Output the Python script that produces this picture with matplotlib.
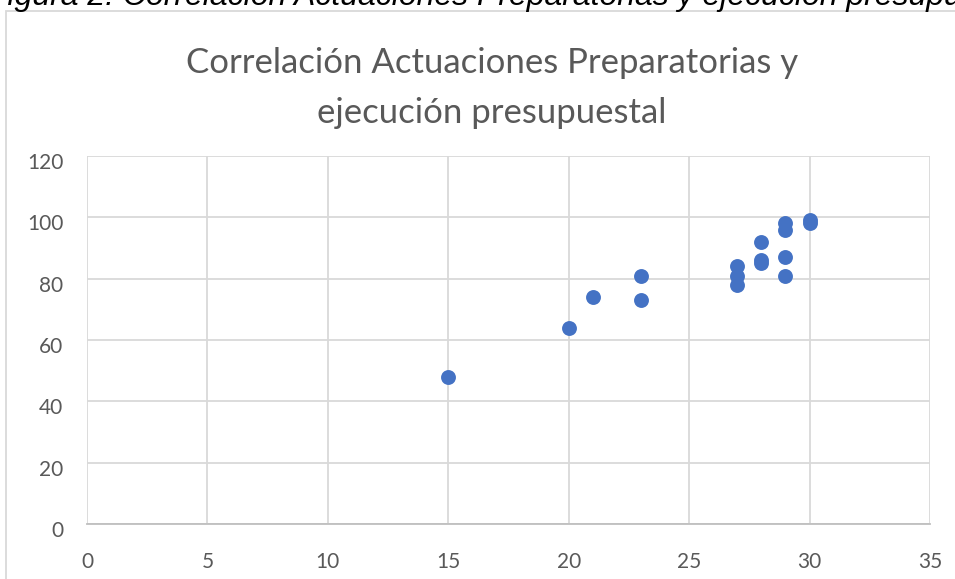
import matplotlib
matplotlib.use("Agg")
import matplotlib.pyplot as plt
from matplotlib.patches import Rectangle
from matplotlib.transforms import ScaledTranslation

# actuaciones preparatorias vs ejecucion presupuestal
actuaciones = [15, 20, 21, 23, 23, 27, 27, 27, 28, 28, 28, 29, 29, 29, 29, 30, 30]
ejecucion = [48, 64, 74, 81, 73, 84, 81, 78, 92, 86, 85, 98, 96, 87, 81, 99, 98]

x_ticks = [0, 5, 10, 15, 20, 25, 30, 35]
y_ticks = [0, 20, 40, 60, 80, 100, 120]

titulo_1 = "Correlación Actuaciones Preparatorias y"
titulo_2 = "ejecución presupuestal"
caption = "Figura 2. Correlación Actuaciones Preparatorias y ejecución presupuestal"

gray = "#595959"
W, H = 955, 579

fig = plt.figure(figsize=(W / 100, H / 100), dpi=100)

# chart area border (clipped by the page like the screenshot)
fig.patches.append(Rectangle((5.5 / W, -0.1), 1.2, 1 - 10.5 / H + 0.1,
                             transform=fig.transFigure, fill=False,
                             edgecolor="#D9D9D9", linewidth=1.3))

# caption cut off at the top of the image
fig.text(-12 / W, 1 - 5 / H, caption, fontsize=23, style="italic",
         family="Liberation Sans", color="black", ha="left", va="baseline")

ax = fig.add_axes([87 / W, 55 / H, (930 - 87) / W, (524 - 156) / H])
ax.scatter(actuaciones, ejecucion, s=115, color="#4472C4", zorder=3, linewidths=0)

ax.set_xlim(0, 35)
ax.set_ylim(0, 120)
ax.set_xticks(x_ticks)
ax.set_yticks(y_ticks)
ax.grid(True, color="#D9D9D9", linewidth=1.3)
ax.set_axisbelow(True)
for s in ["top", "right", "left"]:
    ax.spines[s].set_visible(False)
ax.spines["bottom"].set_color("#BFBFBF")
ax.spines["bottom"].set_linewidth(1.3)
ax.tick_params(length=0, labelsize=15, labelcolor=gray)
ax.tick_params(axis="x", pad=20)
ax.tick_params(axis="y", pad=17)
down = ScaledTranslation(0, -5 / 100, fig.dpi_scale_trans)
for lab in ax.get_xticklabels() + ax.get_yticklabels():
    lab.set_family("Lato")
for lab in ax.get_yticklabels():
    lab.set_transform(lab.get_transform() + down)

fig.text(492 / W, 1 - 73 / H, titulo_1, fontsize=25, color=gray, family="Lato",
         ha="center", va="baseline")
fig.text(492 / W, 1 - 123 / H, titulo_2, fontsize=25, color=gray, family="Lato",
         ha="center", va="baseline")

fig.savefig("out.png", dpi=100)
